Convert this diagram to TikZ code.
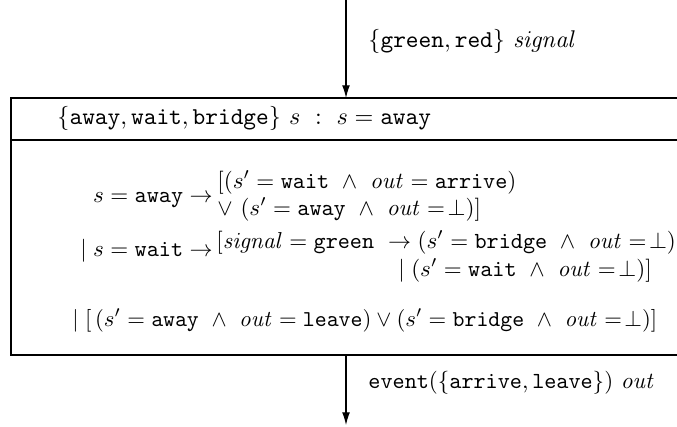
\documentclass[tikz,border=0pt]{standalone}
\usepackage{graphicx}
\usetikzlibrary{arrows.meta}
\newcommand{\tw}[1]{\mathtt{#1}}
\newcommand{\outv}{\mathit{out}}
\newcommand{\sigv}{\mathit{signal}}
\newcommand{\mtxt}[1]{\scalebox{1.05}{$#1$}}
\newcommand{\ntxt}[1]{\scalebox{0.985}{$#1$}}
\begin{document}
\begin{tikzpicture}[x=0.434pt,y=-0.434pt,
  flow/.style={-{Latex[length=5.5pt,width=3.4pt]},line width=0.5pt},
  boxline/.style={line width=0.6pt},
  lbl/.style={inner sep=0pt,anchor=base west},
  lblr/.style={inner sep=0pt,anchor=base east}]
\clip (0,0) rectangle (677,426);
% component box, open on the right
\coordinate (tl) at (11,98);
\coordinate (br) at (690,355);
\draw[boxline] (tl) rectangle (br);
\draw[boxline] (11,140) -- (690,140);
% input and output flows
\coordinate (inS) at (346,0);
\coordinate (inE) at (346,98);
\coordinate (outS) at (346,355);
\coordinate (outE) at (346,425);
\draw[flow] (inS) -- (inE);
\draw[flow] (outS) -- (outE);
\node[lbl] (insig) at (368,47) {\mtxt{\{\tw{green},\tw{red}\}\ \sigv}};
\node[lbl] (outsig) at (368,388) {$\tw{event}(\{\tw{arrive},\tw{leave}\})\ \outv$};
% state declaration
\node[lbl] (decl) at (57,124) {\mtxt{\{\tw{away},\tw{wait},\tw{bridge}\}\ s\ :\ s = \tw{away}}};
% transition relation
\node[lblr] (g1) at (213,202) {$s = \tw{away} \rightarrow$};
\node[lbl] (r1a) at (217,188) {$[(s' = \tw{wait}\ \wedge\ \outv = \tw{arrive})$};
\node[lbl] (r1b) at (217,215) {$\vee\ (s' = \tw{away}\ \wedge\ \outv =\!\bot)]$};
\node[lblr] (g2) at (213,256) {$\mid s = \tw{wait} \rightarrow$};
\node[lbl] (r2a) at (216,248) {$[\sigv = \tw{green}\ \rightarrow (s' = \tw{bridge}\ \wedge\ \outv =\!\bot)$};
\node[lbl] (r2b) at (398,276) {$\mid (s' = \tw{wait}\ \wedge\ \outv =\!\bot)]$};
\node[lbl] (r3) at (72,326) {\ntxt{\mid [\,(s' = \tw{away}\ \wedge\ \outv = \tw{leave}) \vee (s' = \tw{bridge}\ \wedge\ \outv =\!\bot)]}};
\end{tikzpicture}
\end{document}
